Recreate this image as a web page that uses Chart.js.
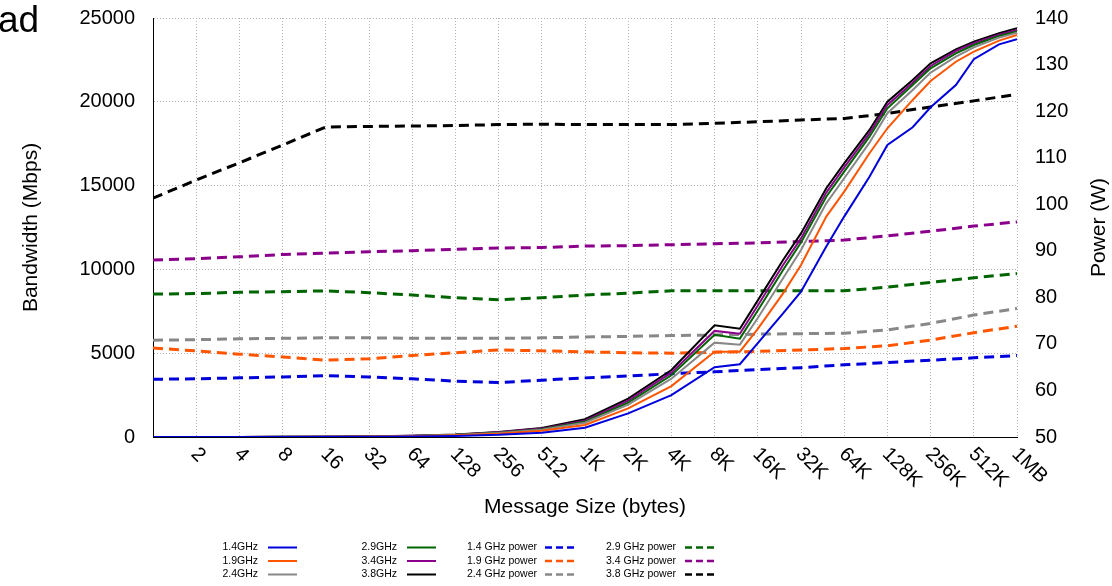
<!DOCTYPE html>
<html>
<head>
<meta charset="utf-8">
<script src="https://cdn.jsdelivr.net/npm/chart.js@4.4.1/dist/chart.umd.min.js"></script>
<style>
  body { margin: 0; background: #fff; }
  canvas { display: block; }
</style>
</head>
<body>
<canvas id="bw_power" width="1112" height="586"></canvas>
<script>
// message sizes (bytes) for the bandwidth runs
const bwSizes = [1, 2, 4, 8, 16, 32, 64, 128, 256, 512, 1024, 2048, 4096, 8192, 12288, 16384, 24576,
    32768, 49152, 65536, 98304, 131072, 196608, 262144, 393216, 524288, 786432, 1048576];

// bandwidth (Mbps) per frequency
const bw14 = [0, 1, 2, 4, 8, 16, 32, 65, 130, 260, 555, 1410, 2500, 4160, 4340, 5600, 7380,
    8670, 11360, 13150, 15530, 17420, 18480, 19670, 21000, 22540, 23430, 23730];
const bw19 = [1, 1, 3, 6, 13, 26, 50, 100, 200, 380, 715, 1710, 3040, 5090, 5090, 6450, 8570,
    10260, 13150, 14640, 16930, 18420, 20110, 21240, 22390, 22990, 23650, 23990];
const bw24 = [1, 2, 4, 8, 16, 32, 60, 120, 240, 440, 850, 1930, 3480, 5630, 5510, 7100, 9470,
    11160, 13940, 15440, 17560, 19320, 20710, 21740, 22690, 23250, 23830, 24120];
const bw29 = [1, 2, 4, 8, 17, 34, 65, 130, 260, 470, 910, 2050, 3680, 6100, 5870, 7550, 9960,
    11600, 14340, 15830, 17920, 19610, 21000, 22000, 22890, 23390, 23930, 24190];
const bw34 = [1, 2, 4, 9, 18, 36, 70, 140, 280, 500, 970, 2170, 3840, 6330, 6160, 7850, 10260,
    11850, 14580, 16090, 18120, 19810, 21140, 22140, 23030, 23490, 24000, 24290];
const bw38 = [1, 2, 5, 10, 20, 40, 75, 150, 300, 540, 1060, 2290, 4000, 6660, 6460, 8150, 10560,
    12150, 14840, 16330, 18320, 20010, 21300, 22300, 23130, 23590, 24090, 24390];

// message sizes for the power runs, also the x ticks
const tickSizes = [1, 2, 4, 8, 16, 32, 64, 128, 256, 512, 1024, 2048, 4096, 8192, 16384, 32768,
    65536, 131072, 262144, 524288, 1048576];
const tickLabels = ['', '2', '4', '8', '16', '32', '64', '128', '256', '512', '1K', '2K', '4K', '8K',
    '16K', '32K', '64K', '128K', '256K', '512K', '1MB'];

// power (W) per frequency
const pw14 = [62.4, 62.5, 62.7, 62.9, 63.2, 62.9, 62.5, 62.0, 61.7, 62.2, 62.7, 63.1, 63.6, 64.0, 64.5, 64.9, 65.5, 66.0, 66.5, 67.0, 67.5];
const pw19 = [69.1, 68.5, 67.8, 67.2, 66.5, 66.8, 67.5, 68.1, 68.7, 68.5, 68.3, 68.1, 68.0, 68.2, 68.4, 68.7, 69.0, 69.6, 70.8, 72.4, 73.8];
const pw24 = [70.8, 70.9, 71.1, 71.2, 71.3, 71.3, 71.2, 71.2, 71.2, 71.3, 71.5, 71.6, 71.8, 71.9, 72.1, 72.2, 72.3, 73.0, 74.4, 76.2, 77.6];
const pw29 = [80.7, 80.8, 81.1, 81.2, 81.4, 81.0, 80.5, 79.9, 79.5, 79.9, 80.5, 80.9, 81.4, 81.4, 81.4, 81.4, 81.4, 82.2, 83.2, 84.2, 85.1];
const pw34 = [88.0, 88.3, 88.7, 89.2, 89.5, 89.8, 90.0, 90.3, 90.6, 90.7, 91.0, 91.1, 91.3, 91.5, 91.7, 92.0, 92.3, 93.2, 94.2, 95.3, 96.2];
const pw38 = [101.3, 105.2, 108.9, 112.7, 116.6, 116.7, 116.8, 116.9, 117.1, 117.2, 117.1, 117.1, 117.1, 117.4, 117.7, 118.1, 118.4, 119.5, 120.9, 122.2, 123.6];

const FONT = '"Liberation Sans", Arial, sans-serif';

function pts(xs, ys) {
    return xs.map((x, i) => ({x: x, y: ys[i]}));
}

function bwSet(label, values, color) {
    return {label: label, data: pts(bwSizes, values), yAxisID: 'y', borderColor: color,
        borderWidth: 2, pointRadius: 0, tension: 0, fill: false};
}

function pwSet(label, values, color) {
    return {label: label, data: pts(tickSizes, values), yAxisID: 'y2', borderColor: color,
        borderWidth: 3, borderDash: [10, 6], pointRadius: 0, tension: 0, fill: false};
}

// fixed axis box, no extra room for half labels
function fixWidth(w) {
    return (axis) => {
        axis.width = w;
        axis.paddingTop = 0;
        axis.paddingBottom = 0;
    };
}

// rotated x labels, right title, legend
const extraText = {
    id: 'extraText',
    afterDraw(chart) {
        const ctx = chart.ctx;
        const xs = chart.scales.x;
        const area = chart.chartArea;
        ctx.save();
        ctx.fillStyle = '#000';

        ctx.font = '20px ' + FONT;
        ctx.textAlign = 'left';
        ctx.textBaseline = 'middle';
        tickSizes.forEach((s, i) => {
            if (!tickLabels[i]) return;
            ctx.save();
            ctx.translate(xs.getPixelForValue(s) - 2, area.bottom + 14);
            ctx.rotate(Math.PI / 4);
            ctx.fillText(tickLabels[i], 0, 0);
            ctx.restore();
        });

        ctx.font = '21px ' + FONT;
        ctx.textAlign = 'center';
        ctx.save();
        ctx.translate(1099, (area.top + area.bottom) / 2);
        ctx.rotate(-Math.PI / 2);
        ctx.fillText('Power (W)', 0, 0);
        ctx.restore();

        ctx.font = '37px ' + FONT;
        ctx.textAlign = 'left';
        ctx.textBaseline = 'alphabetic';
        ctx.fillText('ad', -2, 32);

        // legend, 4 columns of 3
        const cols = [[258, 268], [397, 407], [537, 545], [676, 685]];
        const rows = [547.5, 561, 574.5];
        ctx.font = '10.5px ' + FONT;
        ctx.textAlign = 'right';
        ctx.textBaseline = 'middle';
        chart.data.datasets.forEach((ds, i) => {
            const c = cols[Math.floor(i / 3)];
            const y = rows[i % 3];
            ctx.fillStyle = '#000';
            ctx.fillText(ds.label, c[0], y);
            ctx.strokeStyle = ds.borderColor;
            ctx.lineWidth = ds.borderDash ? 2.5 : 2;
            ctx.setLineDash(ds.borderDash ? [7, 4] : []);
            ctx.beginPath();
            ctx.moveTo(c[1], y);
            ctx.lineTo(c[1] + 29, y);
            ctx.stroke();
        });
        ctx.restore();
    }
};

const chart1 = document.getElementById('bw_power');

new Chart(chart1, {
    type: 'line',
    data: {
        datasets: [
            bwSet('1.4GHz', bw14, '#0000dd'),
            bwSet('1.9GHz', bw19, '#ff5500'),
            bwSet('2.4GHz', bw24, '#888888'),
            bwSet('2.9GHz', bw29, '#006400'),
            bwSet('3.4GHz', bw34, '#8b008b'),
            bwSet('3.8GHz', bw38, '#000000'),
            pwSet('1.4 GHz power', pw14, '#0000dd'),
            pwSet('1.9 GHz power', pw19, '#ff5500'),
            pwSet('2.4 GHz power', pw24, '#888888'),
            pwSet('2.9 GHz power', pw29, '#006400'),
            pwSet('3.4 GHz power', pw34, '#8b008b'),
            pwSet('3.8 GHz power', pw38, '#000000')
        ]
    },
    options: {
        responsive: false,
        animation: false,
        layout: {padding: {top: 18, left: 0, right: 0, bottom: 66}},
        plugins: {legend: {display: false}, tooltip: {enabled: false}},
        scales: {
            x: {
                type: 'logarithmic',
                min: 1,
                max: 1048576,
                afterBuildTicks: (axis) => { axis.ticks = tickSizes.map(v => ({value: v})); },
                afterFit: (axis) => { axis.height = 83; axis.paddingLeft = 0; axis.paddingRight = 0; },
                ticks: {display: false},
                grid: {color: '#b4b4b4', drawTicks: false},
                border: {color: '#000', width: 1, dash: [1, 2]},
                title: {display: true, text: 'Message Size (bytes)', color: '#000',
                    font: {family: FONT, size: 21}, padding: {top: 0, bottom: 0}}
            },
            y: {
                position: 'left',
                min: 0,
                max: 25000,
                afterFit: fixWidth(153),
                ticks: {stepSize: 5000, color: '#000', padding: 18, font: {family: FONT, size: 20},
                    callback: (v) => String(v)},
                grid: {color: '#b4b4b4', drawTicks: false},
                border: {color: '#000', width: 1, dash: [1, 2]},
                title: {display: true, text: 'Bandwidth (Mbps)', color: '#000',
                    font: {family: FONT, size: 21}, padding: {top: 19, bottom: 0}}
            },
            y2: {
                position: 'right',
                min: 50,
                max: 140,
                afterFit: fixWidth(95),
                ticks: {stepSize: 10, color: '#000', padding: 18, font: {family: FONT, size: 20}},
                grid: {drawOnChartArea: false, drawTicks: false},
                border: {display: false}
            }
        }
    },
    plugins: [extraText]
});
</script>
</body>
</html>
